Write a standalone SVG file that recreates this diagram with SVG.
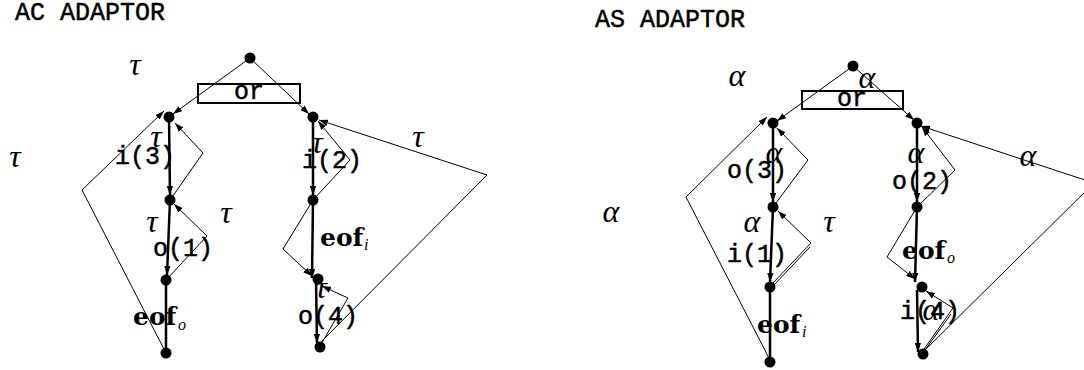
<svg xmlns="http://www.w3.org/2000/svg" width="1084" height="370" viewBox="0 0 1084 370">
<style>
.thin{fill:none;stroke:#000;stroke-width:1}
.thick{fill:none;stroke:#000;stroke-width:2.5}
.box{fill:none;stroke:#000;stroke-width:2}
.node{fill:#000}
.mono{font-family:"Liberation Mono","DejaVu Sans Mono",monospace;font-size:25px;fill:#000;stroke:#000;stroke-width:0.5}
.bold{font-family:"DejaVu Serif","Liberation Serif",serif;font-weight:bold;font-size:25px;fill:#000}
.sub{font-family:"Liberation Serif",serif;font-style:italic;font-size:16px;fill:#000}
.greek{font-family:"Liberation Serif","DejaVu Serif",serif;font-style:italic;font-size:32px;fill:#000;text-anchor:middle}
</style>
<defs>
<marker id="ah" viewBox="0 0 10 7" refX="10" refY="3.5" markerWidth="9" markerHeight="6.5" markerUnits="userSpaceOnUse" orient="auto">
<path d="M0,0 L10,3.5 L0,7 z" fill="#000"/>
</marker>
</defs>

<text class="mono" x="15" y="20">AC ADAPTOR</text>
<text class="mono" x="595" y="27">AS ADAPTOR</text>

<g id="connectors">
<!-- AC -->
<line class="thin" x1="250" y1="58" x2="173" y2="114" marker-end="url(#ah)"/>
<line class="thin" x1="250" y1="58" x2="309" y2="114" marker-end="url(#ah)"/>
<line class="thick" x1="169" y1="117" x2="170" y2="195" marker-end="url(#ah)"/>
<line class="thick" x1="170" y1="200" x2="167" y2="275" marker-end="url(#ah)"/>
<line class="thick" x1="166" y1="280" x2="166" y2="353"/>
<polyline class="thin" points="166,353 82,190 164,111" marker-end="url(#ah)"/>
<polyline class="thin" points="170,200 203,153 175,123" marker-end="url(#ah)"/>
<polyline class="thin" points="167,279 207,236 174,204" marker-end="url(#ah)"/>
<line class="thick" x1="313" y1="117" x2="313" y2="195" marker-end="url(#ah)"/>
<line class="thick" x1="313" y1="200" x2="312" y2="278" marker-end="url(#ah)"/>
<line class="thick" x1="316" y1="280" x2="317" y2="343" marker-end="url(#ah)"/>
<polyline class="thin" points="313,200 283,249 312,276" marker-end="url(#ah)"/>
<polyline class="thin" points="320,346 348,298 322,286" marker-end="url(#ah)"/>
<polyline class="thin" points="313,200 350,160 318,121" marker-end="url(#ah)"/>
<polyline class="thin" points="319,344 487,175 319,120" marker-end="url(#ah)"/>
<!-- AS -->
<line class="thin" x1="853" y1="66" x2="777" y2="121" marker-end="url(#ah)"/>
<line class="thin" x1="853" y1="66" x2="914" y2="120" marker-end="url(#ah)"/>
<line class="thick" x1="773" y1="123" x2="773" y2="202" marker-end="url(#ah)"/>
<line class="thick" x1="773" y1="207" x2="770" y2="282" marker-end="url(#ah)"/>
<line class="thick" x1="770" y1="287" x2="770" y2="362"/>
<polyline class="thin" points="770,360 686,197 767,117" marker-end="url(#ah)"/>
<polyline class="thin" points="773,207 808,160 777,128" marker-end="url(#ah)"/>
<polyline class="thin" points="772,284 811,243 778,211" marker-end="url(#ah)"/>
<line class="thin" x1="774" y1="285" x2="810" y2="247"/>
<line class="thick" x1="917" y1="123" x2="917" y2="202" marker-end="url(#ah)"/>
<line class="thick" x1="917" y1="207" x2="915" y2="282" marker-end="url(#ah)"/>
<line class="thick" x1="917" y1="290" x2="918" y2="352" marker-end="url(#ah)"/>
<polyline class="thin" points="917,207 887,257 915,279" marker-end="url(#ah)"/>
<polyline class="thin" points="922,352 953,308 926,291" marker-end="url(#ah)"/>
<line class="thin" x1="925" y1="350" x2="951" y2="314"/>
<polyline class="thin" points="917,207 955,170 922,127" marker-end="url(#ah)"/>
<polyline class="thin" points="923,352 1094,183 921,126" marker-end="url(#ah)"/>
</g>

<g id="or-left"><rect class="box" x="198" y="84" width="102" height="19"/><text class="mono" x="249" y="99" text-anchor="middle">or</text></g>
<g id="or-right"><rect class="box" x="802" y="91" width="101" height="18"/><text class="mono" x="852" y="106" text-anchor="middle">or</text></g>

<g id="ac-top"><circle class="node" cx="250" cy="58" r="5.5"/></g>
<g id="ac-l1"><circle class="node" cx="169" cy="117" r="5.5"/></g>
<g id="ac-l2"><circle class="node" cx="170" cy="200" r="5.5"/></g>
<g id="ac-l3"><circle class="node" cx="166" cy="280" r="5.5"/></g>
<g id="ac-l4"><circle class="node" cx="166" cy="353" r="5.5"/></g>
<g id="ac-r1"><circle class="node" cx="313" cy="117" r="5.5"/></g>
<g id="ac-r2"><circle class="node" cx="313" cy="200" r="5.5"/></g>
<g id="ac-r3"><circle class="node" cx="318" cy="279" r="5.5"/></g>
<g id="ac-r4"><circle class="node" cx="320" cy="347" r="5.5"/></g>

<g id="as-top"><circle class="node" cx="853" cy="66" r="5.5"/></g>
<g id="as-l1"><circle class="node" cx="773" cy="123" r="5.5"/></g>
<g id="as-l2"><circle class="node" cx="773" cy="207" r="5.5"/></g>
<g id="as-l3"><circle class="node" cx="770" cy="287" r="5.5"/></g>
<g id="as-l4"><circle class="node" cx="770" cy="362" r="5.5"/></g>
<g id="as-r1"><circle class="node" cx="917" cy="123" r="5.5"/></g>
<g id="as-r2"><circle class="node" cx="917" cy="207" r="5.5"/></g>
<g id="as-r3"><circle class="node" cx="922" cy="287" r="5.5"/></g>
<g id="as-r4"><circle class="node" cx="923" cy="354" r="5.5"/></g>

<g id="labels-ac">
<text class="mono" x="115" y="164">i(3)</text>
<text class="mono" x="302" y="168">i(2)</text>
<text class="mono" x="153" y="256">o(1)</text>
<text class="mono" x="298" y="324">o(4)</text>
<text class="bold" x="133" y="325">eof</text><text class="sub" x="178" y="330">o</text>
<text class="bold" x="320" y="246">eof</text><text class="sub" x="364" y="250">i</text>
<text class="greek" x="135" y="75">τ</text>
<text class="greek" x="15" y="167">τ</text>
<text class="greek" x="156" y="147">τ</text>
<text class="greek" x="317" y="153">τ</text>
<text class="greek" x="418" y="147">τ</text>
<text class="greek" x="152" y="232">τ</text>
<text class="greek" x="226" y="223">τ</text>
<text class="greek" x="321" y="298">τ</text>
</g>

<g id="labels-as">
<text class="mono" x="727" y="178">o(3)</text>
<text class="mono" x="727" y="262">i(1)</text>
<text class="mono" x="892" y="189">o(2)</text>
<text class="mono" x="900" y="319">i(4)</text>
<text class="bold" x="757" y="333">eof</text><text class="sub" x="802" y="337">i</text>
<text class="bold" x="902" y="259">eof</text><text class="sub" x="947" y="263">o</text>
<text class="greek" x="737" y="86">α</text>
<text class="greek" x="867" y="88">α</text>
<text class="greek" x="611" y="222">α</text>
<text class="greek" x="774" y="163">α</text>
<text class="greek" x="752" y="232">α</text>
<text class="greek" x="829" y="232">τ</text>
<text class="greek" x="916" y="163">α</text>
<text class="greek" x="1028" y="166">α</text>
<text class="greek" x="931" y="320">α</text>
</g>
</svg>
